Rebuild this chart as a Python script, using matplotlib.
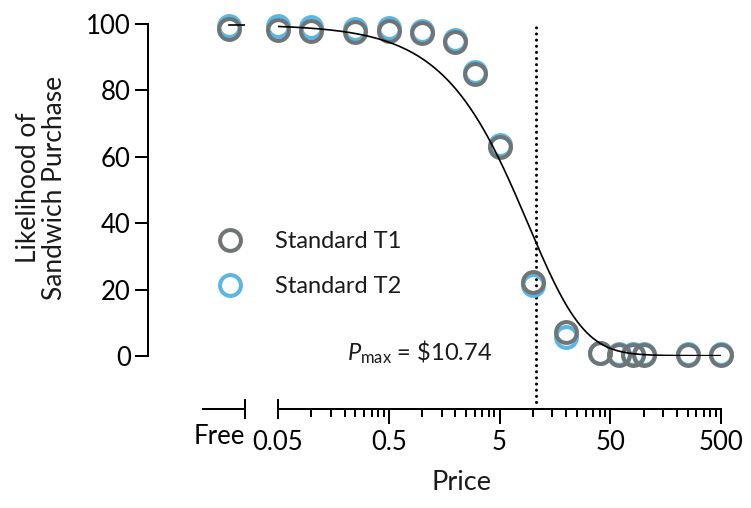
import numpy as np
import matplotlib
matplotlib.use("Agg")
import matplotlib.pyplot as plt
from matplotlib.ticker import FixedLocator, LogLocator, NullFormatter

# purchase-task prices (Free handled on its own short axis)
prices = [0.05, 0.1, 0.25, 0.5, 1, 2, 3, 5, 10, 20, 40, 60, 80, 100, 250, 500]
free_t1 = 98.5
free_t2 = 99.5
likelihood_t1 = [98.3, 98.0, 97.6, 97.9, 97.2, 94.5, 85.0, 63.0, 22.3, 7.3, 0.8, 0.3, 0.3, 0.3, 0.3, 0.3]
likelihood_t2 = [99.3, 99.0, 98.6, 98.8, 97.8, 95.3, 85.5, 63.5, 21.4, 5.6, 1.0, 0.5, 0.5, 0.5, 0.5, 0.5]

# exponentiated demand fit
q0 = 99.8
k = 3.0
alpha = 1.58e-4
pmax = 10.74

x_ticks = [0.05, 0.5, 5, 50, 500]
x_ticklabels = ["0.05", "0.5", "5", "50", "500"]
y_ticks = [0, 20, 40, 60, 80, 100]

GRAY = "#6f7474"
BLUE = "#5ab6e6"


def demand(c):
    return q0 * 10 ** (k * (np.exp(-alpha * q0 * np.asarray(c, dtype=float)) - 1))


plt.rcParams["font.family"] = ["Lato", "DejaVu Sans"]
plt.rcParams["mathtext.fontset"] = "custom"
plt.rcParams["mathtext.rm"] = "Lato"
plt.rcParams["mathtext.it"] = "Lato:italic"
plt.rcParams["text.color"] = "#1a1a1a"

fig = plt.figure(figsize=(7.51, 5.08), dpi=100)
W, H = 751.0, 508.0
bottom = (H - 356) / H
height = (356 - 24) / H
ax_free = fig.add_axes([148 / W, bottom, 97 / W, height])
ax = fig.add_axes([278 / W, bottom, 443 / W, height])

spine_w = 1.45
drop = 38  # points the x axis sits below zero
ring = dict(ls="none", marker="o", ms=15, mfc="none", mew=2.9)

# --- Free segment ---
ax_free.set_xlim(-5, 1)
ax_free.set_ylim(0, 100)
ax_free.plot(0, free_t2, mec=BLUE, clip_on=False, zorder=3, **ring)
ax_free.plot(0, free_t1, mec=GRAY, clip_on=False, zorder=4, **ring)
ax_free.plot([0, 1], [demand(0), demand(0)], color="black", lw=1.2, zorder=5)
for s in ["top", "right"]:
    ax_free.spines[s].set_visible(False)
ax_free.spines["left"].set_bounds(0, 100)
ax_free.spines["bottom"].set_position(("outward", drop))
ax_free.spines["bottom"].set_bounds(-1.6, 1)
for s in ["left", "bottom"]:
    ax_free.spines[s].set_linewidth(spine_w)
ax_free.set_yticks(y_ticks)
ax_free.tick_params(axis="y", length=9.4, width=spine_w, pad=3, labelsize=18.5)
ax_free.set_xticks([1])
ax_free.set_xticklabels(["Free"], ha="right")
ax_free.tick_params(axis="x", direction="inout", length=14.5, width=spine_w, pad=4, labelsize=18.5)

# --- priced segment ---
ax.set_xscale("log")
ax.set_xlim(0.05, 500)
ax.set_ylim(0, 100)
ax.plot(prices, likelihood_t2, mec=BLUE, clip_on=False, zorder=3, **ring)
ax.plot(prices, likelihood_t1, mec=GRAY, clip_on=False, zorder=4, **ring)
c = np.logspace(np.log10(0.05), np.log10(500), 400)
ax.plot(c, demand(c), color="black", lw=1.2, zorder=5)
ax.plot([pmax, pmax], [-14, 100], color="black", lw=2.2,
        linestyle=(0, (0.01, 2.0)), dash_capstyle="round", clip_on=False, zorder=2)
ax.annotate(r"$P_{\mathrm{max}}$ = \$%.2f" % pmax, xy=(pmax, 1), xytext=(-32, 0),
            textcoords="offset points", ha="right", va="center", fontsize=17)

for s in ["top", "right", "left"]:
    ax.spines[s].set_visible(False)
ax.spines["bottom"].set_position(("outward", drop))
ax.spines["bottom"].set_linewidth(spine_w)
ax.set_yticks([])
ax.xaxis.set_major_locator(FixedLocator(x_ticks))
ax.set_xticklabels(x_ticklabels)
ax.xaxis.set_minor_locator(LogLocator(base=10, subs=(1, 1.5, 2, 2.5, 3, 3.5, 4, 4.5), numticks=50))
ax.xaxis.set_minor_formatter(NullFormatter())
ax.tick_params(axis="x", which="major", length=11, width=spine_w, pad=4, labelsize=18.5)
ax.tick_params(axis="x", which="minor", length=5.4, width=spine_w)
first = ax.xaxis.get_major_ticks()[0]
first.tick1line.set_marker("|")
first.tick1line.set_markersize(14.5)

# legend
handles = [
    plt.Line2D([], [], mec=GRAY, **ring),
    plt.Line2D([], [], mec=BLUE, **ring),
]
fig.legend(handles, ["Standard T1", "Standard T2"], loc="center left",
           bbox_to_anchor=(218.5 / W, 1 - 264 / H), frameon=False, fontsize=17,
           handlelength=1.0, handletextpad=1.4, labelspacing=1.0,
           borderpad=0, borderaxespad=0)

fig.text(462 / W, 1 - 483 / H, "Price", ha="center", va="center", fontsize=19.5)
fig.text(42 / W, 1 - 188 / H, "Likelihood of\nSandwich Purchase", rotation=90,
         ha="center", va="center", multialignment="center", fontsize=19, linespacing=1.05)

fig.savefig("out.png", dpi=100)
